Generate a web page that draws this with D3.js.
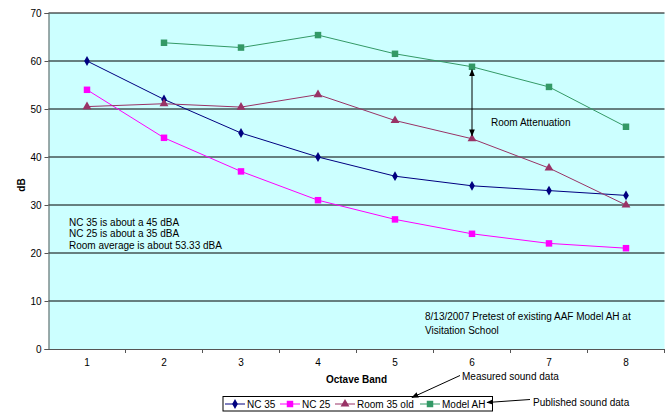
<!DOCTYPE html>
<html><head><meta charset="utf-8">
<script src="https://cdn.jsdelivr.net/npm/d3@7"></script>
<style>body{margin:0;background:#fff}svg{display:block;font-family:"Liberation Sans",Arial,sans-serif}</style>
</head><body><svg id="c" width="669" height="416"></svg>
<script>
const categories = ["1","2","3","4","5","6","7","8"];
const nc35 = [60,52,45,40,36,34,33,32];
const nc25 = [54,44,37,31,27,24,22,21];
const room35old = [50.5,51.1,50.4,53,47.6,43.8,37.7,30];
const modelAH = [null,63.8,62.8,65.4,61.5,58.8,54.6,46.3];
const yTicks = [0,10,20,30,40,50,60,70];
const seriesNames = ["NC 35","NC 25","Room 35 old","Model AH"];
const notes = ["NC 35 is about a 45 dBA","NC 25 is about a 35 dBA","Room average is about 53.33 dBA"];

const svg = d3.select("#c");
const L=48.5,R=664.5,T=13,B=349;
const x = d3.scaleBand().domain(categories).range([L,R]);
const y = d3.scaleLinear().domain([0,70]).range([B,T]);
const cx = c => x(c)+x.bandwidth()/2;

svg.append("rect").attr("x",L).attr("y",T).attr("width",R-L).attr("height",B-T).attr("fill","#CCFFFF");
svg.append("g").selectAll("line").data(yTicks.filter(d=>d>0)).join("line")
 .attr("x1",L).attr("x2",R).attr("y1",d=>y(d)).attr("y2",d=>y(d)).attr("stroke","#000").attr("stroke-width",1);

const yAxis = svg.append("g").attr("transform",`translate(${L},0)`).call(d3.axisLeft(y).tickValues(yTicks).tickSize(4).tickPadding(3));
yAxis.select(".domain").attr("stroke","#555");
yAxis.selectAll("text").attr("font-size",10).attr("fill","#000").attr("font-family","Liberation Sans, Arial");
yAxis.selectAll(".tick line").attr("stroke","#555");

const xAxis = svg.append("g").attr("transform",`translate(0,${B})`).call(d3.axisBottom(x).tickSize(0).tickPadding(10));
xAxis.select(".domain").attr("stroke","#555");
xAxis.selectAll("text").attr("font-size",10).attr("fill","#000").attr("font-family","Liberation Sans, Arial");
svg.append("g").selectAll("line").data(categories).join("line")
 .attr("x1",d=>x(d)+x.bandwidth()).attr("x2",d=>x(d)+x.bandwidth())
 .attr("y1",B).attr("y2",B+4).attr("stroke","#555");

const series = [
 {name:seriesNames[0],vals:nc35,color:"#000080",shape:"diamond"},
 {name:seriesNames[1],vals:nc25,color:"#FF00FF",shape:"square"},
 {name:seriesNames[2],vals:room35old,color:"#993366",shape:"triangle"},
 {name:seriesNames[3],vals:modelAH,color:"#339966",shape:"square"}
];
const sym = {diamond:d3.symbol().type(d3.symbolDiamond).size(28)(),
 square:d3.symbol().type(d3.symbolSquare).size(42)(),
 triangle:d3.symbol().type(d3.symbolTriangle).size(34)()};
const line = d3.line().defined(d=>d.v!=null).x(d=>cx(d.c)).y(d=>y(d.v));
series.forEach(s=>{
 const pts = categories.map((c,i)=>({c,v:s.vals[i]}));
 svg.append("path").datum(pts).attr("d",line).attr("fill","none").attr("stroke",s.color).attr("stroke-width",1);
 svg.append("g").selectAll("path").data(pts.filter(p=>p.v!=null)).join("path")
  .attr("d",sym[s.shape]).attr("transform",p=>`translate(${cx(p.c)},${y(p.v)})`).attr("fill",s.color);
});

const defs = svg.append("defs");
defs.append("marker").attr("id","ah").attr("viewBox","0 0 10 10").attr("refX",9).attr("refY",5)
 .attr("markerWidth",7).attr("markerHeight",7).attr("orient","auto-start-reverse")
 .append("path").attr("d","M0,1 L10,5 L0,9 Z").attr("fill","#000");
const ax6 = cx("6");
svg.append("line").attr("x1",ax6).attr("x2",ax6).attr("y1",y(modelAH[5])+3).attr("y2",y(room35old[5])-3)
 .attr("stroke","#000").attr("stroke-width",1).attr("marker-start","url(#ah)").attr("marker-end","url(#ah)");
svg.append("text").attr("x",491).attr("y",125.5).attr("font-size",10).text("Room Attenuation");

notes.forEach((t,i)=>svg.append("text").attr("x",69).attr("y",225.5+i*11.7).attr("font-size",10).text(t));
svg.append("text").attr("x",425).attr("y",319.5).attr("font-size",10).text("8/13/2007 Pretest of existing AAF Model AH at");
svg.append("text").attr("x",425).attr("y",333.5).attr("font-size",10).text("Visitation School");

svg.append("text").attr("x",(L+R)/2).attr("y",383).attr("font-size",10).attr("font-weight","bold").attr("text-anchor","middle").text("Octave Band");
svg.append("text").attr("transform","translate(24.5,185) rotate(-90)").attr("font-size",10).attr("font-weight","bold").attr("text-anchor","middle").text("dB");

const lg = svg.append("g");
lg.append("rect").attr("x",223).attr("y",396.5).attr("width",269.5).attr("height",14.5).attr("fill","#fff").attr("stroke","#000");
const lx = [225,280,335,420];
series.forEach((s,i)=>{
 const g = lg.append("g").attr("transform",`translate(${lx[i]},404)`);
 g.append("line").attr("x1",0).attr("x2",20).attr("stroke",s.color);
 g.append("path").attr("d",sym[s.shape]).attr("transform","translate(10,0)").attr("fill",s.color);
 g.append("text").attr("x",22).attr("y",3.5).attr("font-size",10).text(s.name);
});

svg.append("text").attr("x",462).attr("y",379.5).attr("font-size",10).text("Measured sound data");
svg.append("line").attr("x1",460).attr("y1",375.5).attr("x2",412).attr("y2",397.5).attr("stroke","#000").attr("marker-end","url(#ah)");
svg.append("text").attr("x",533).attr("y",405.5).attr("font-size",10).text("Published sound data");
svg.append("line").attr("x1",530).attr("y1",399.5).attr("x2",487).attr("y2",402.5).attr("stroke","#000").attr("marker-end","url(#ah)");
</script></body></html>
